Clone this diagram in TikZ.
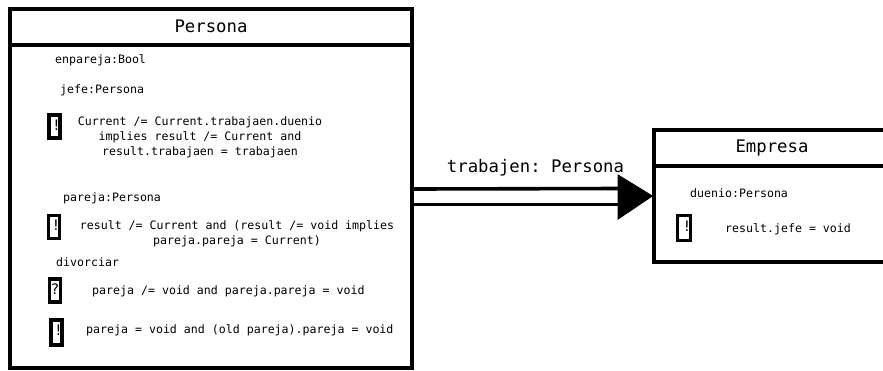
\documentclass[tikz,border=0pt]{standalone}
\usepackage{fontspec}
\setmonofont{DejaVu Sans Mono}
\begin{document}
\begin{tikzpicture}[x=1pt,y=-1pt,
  box/.style={draw, line width=3.6pt, inner sep=0pt},
  sep/.style={line width=3.6pt},
  small/.style={font=\ttfamily\fontsize{11.6}{15}\selectfont, inner sep=0pt},
  big/.style={font=\ttfamily\fontsize{17.3}{20}\selectfont, inner sep=0pt},
  icon/.style={draw, line width=3.6pt, minimum width=11pt, minimum height=23pt, inner sep=0pt},
  iconmark/.style={font=\ttfamily\fontsize{14.5}{16}\selectfont, inner sep=0pt},
  assoc/.style={line width=3.6pt},
  head/.style={fill=black, draw=black, line width=1pt, line join=miter},
]
\useasboundingbox (0,0) rectangle (883,370);

% Persona class
\node[box, minimum width=402pt, minimum height=359pt] (persona) at (211,188.5) {};
\coordinate (ph) at (0,45);
\draw[sep] (persona.west |- ph) -- (persona.east |- ph);
\node[big] (ptitle) at (211,26.5) {Persona};

\node[small, anchor=west] (a1) at (55,60.5) {enpareja:Bool};
\node[small, anchor=west] (a2) at (60,90.5) {jefe:Persona};
\node[icon] (i1) at (54.5,126.5) {};
\node[iconmark] (m1) at (56.5,125) {!};
\node[small, align=center] (c1) at (200,137.5) {Current /= Current.trabajaen.duenio\\implies result /= Current and\\result.trabajaen = trabajaen};

\node[small, anchor=west] (a3) at (63,198.5) {pareja:Persona};
\node[icon] (i2) at (54,227) {};
\node[iconmark] (m2) at (56,225.5) {!};
\node[small, align=center] (c2) at (237,234) {result /= Current and (result /= void implies\\pareja.pareja = Current)};

\node[small, anchor=west] (a4) at (56,262.5) {divorciar};
\node[icon] (i3) at (55,290.5) {};
\node[iconmark] (m3) at (55,289.5) {?};
\node[small, anchor=west] (c3) at (92,291.5) {pareja /= void and pareja.pareja = void};

\node[icon, minimum height=25pt] (i4) at (56.5,332.5) {};
\node[iconmark] (m4) at (58.5,330.5) {!};
\node[small, anchor=west] (c4) at (86,330.5) {pareja = void and (old pareja).pareja = void};

% Empresa class
\node[box, minimum width=246pt, minimum height=132pt] (empresa) at (777,196) {};
\coordinate (eh) at (0,166);
\draw[sep] (empresa.west |- eh) -- (empresa.east |- eh);
\node[big] (etitle) at (772,147.5) {Empresa};
\node[small, anchor=west] (e1) at (690,193.5) {duenio:Persona};
\node[icon, minimum width=13pt, minimum height=25pt] (i5) at (684,228) {};
\node[iconmark] (m5) at (687,226.5) {!};
\node[small, anchor=west] (e2) at (725,229.5) {result.jefe = void};

% association
\coordinate (t1) at (0,189);
\coordinate (t2) at (0,204.5);
\coordinate (b1) at (620,188.5);
\coordinate (b2) at (620,204.5);
\coordinate (hb1) at (618,175);
\coordinate (hb2) at (618,219);
\draw[assoc] (persona.east |- t1) -- (b1);
\draw[assoc] (persona.east |- t2) -- (b2);
\draw[head] (hb1) -- (empresa.west) -- (hb2) -- cycle;
\node[big] (lbl) at (535.5,167.5) {trabajen: Persona};
\end{tikzpicture}
\end{document}
